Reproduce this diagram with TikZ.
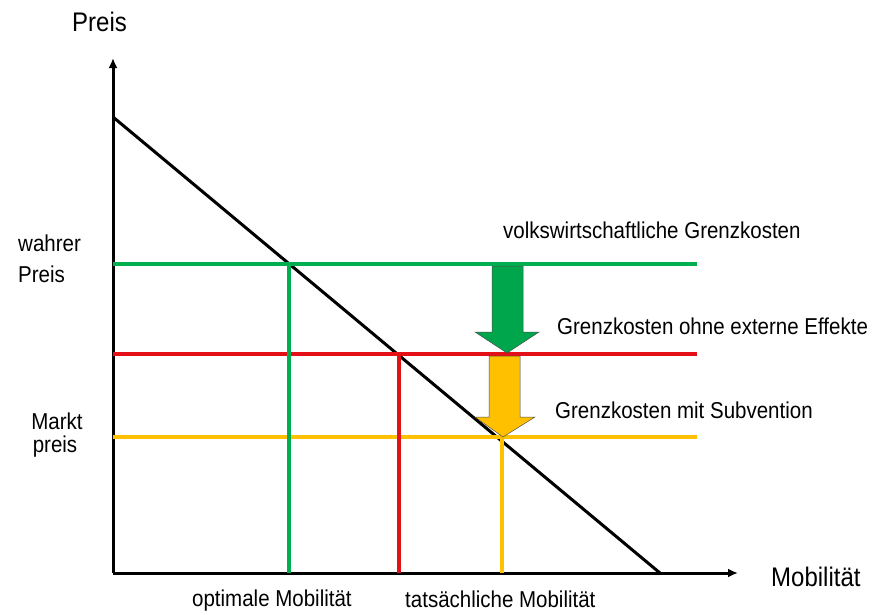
\documentclass[tikz,border=0pt]{standalone}
\usepackage{fontspec}
\setmainfont{Liberation Sans}
\usetikzlibrary{arrows.meta}
\definecolor{cgreen}{RGB}{0,176,80}
\definecolor{cred}{RGB}{228,16,24}
\definecolor{cyellow}{RGB}{255,192,0}
\definecolor{cgreenarrow}{RGB}{0,166,76}
\newcommand{\tallt}[1]{\scalebox{1}[1.12]{#1}}
\tikzset{
  axis/.style={line width=3pt,-{Latex[length=10pt,width=9pt]}},
  demand/.style={line width=3pt},
  level/.style={line width=4pt},
  lbl/.style={font=\fontsize{20.5}{24}\selectfont,inner sep=0pt},
  axlbl/.style={font=\fontsize{24}{28}\selectfont,inner sep=0pt},
  bigarrow/.style={draw=black!70,line width=0.5pt,line join=miter}
}
\begin{document}
\begin{tikzpicture}[x=1pt,y=-1pt]
\useasboundingbox (0,0) rectangle (875,614);
% axes
\coordinate (O) at (113,573);
\coordinate (ytop) at (113,58);
\coordinate (xend) at (738,573);
\draw[axis] (O) -- (ytop);
\draw[axis] (O) -- (xend);
% demand
\coordinate (d0) at (113,117);
\coordinate (d1) at (660,573);
\draw[demand] (d0) -- (d1);
% horizontal levels
\coordinate (g0) at (113,264); \coordinate (g1) at (697,264);
\coordinate (r0) at (113,354); \coordinate (r1) at (697,354);
\coordinate (y0) at (113,437); \coordinate (y1) at (697,437);
\draw[level,cgreen] (g0) -- (g1);
\draw[level,cred] (r0) -- (r1);
\draw[level,cyellow] (y0) -- (y1);
% verticals
\coordinate (gv) at (289,264); \coordinate (gb) at (289,573);
\coordinate (rv) at (399,354); \coordinate (rb) at (399,573);
\coordinate (yv) at (502,437); \coordinate (yb) at (502,573);
\draw[level,cgreen] (gv) -- (gb);
\draw[level,cred] (rv) -- (rb);
\draw[level,cyellow] (yv) -- (yb);
% big arrows
\draw[bigarrow,fill=cgreenarrow] (492,266) -- (523,266) -- (523,332) -- (539,332) -- (507,353) -- (475,332) -- (492,332) -- cycle;
\draw[bigarrow,fill=cyellow] (489,356) -- (520,356) -- (520,417) -- (535,417) -- (503,437) -- (475,417) -- (489,417) -- cycle;
% labels
\node[axlbl,anchor=west] (preis) at (72,22) {\tallt{Preis}};
\node[axlbl,anchor=west] (mob) at (771,577) {\tallt{Mobilität}};
\node[lbl,anchor=west] (wahr1) at (18,243) {\tallt{wahrer}};
\node[lbl,anchor=west] (wahr2) at (18,274) {\tallt{Preis}};
\node[lbl] (markt1) at (57,421) {\tallt{Markt}};
\node[lbl] (markt2) at (55,447) {\tallt{preis}};
\node[lbl,anchor=west] (vk) at (503,230) {\tallt{volkswirtschaftliche Grenzkosten}};
\node[lbl,anchor=west] (ohne) at (557,326) {\tallt{Grenzkosten ohne externe Effekte}};
\node[lbl,anchor=west] (sub) at (555,410) {\tallt{Grenzkosten mit Subvention}};
\node[lbl,anchor=west] (opt) at (192,601) {\tallt{optimale Mobilität}};
\node[lbl,anchor=west] (tat) at (405,599) {\tallt{tatsächliche Mobilität}};
\end{tikzpicture}
\end{document}
